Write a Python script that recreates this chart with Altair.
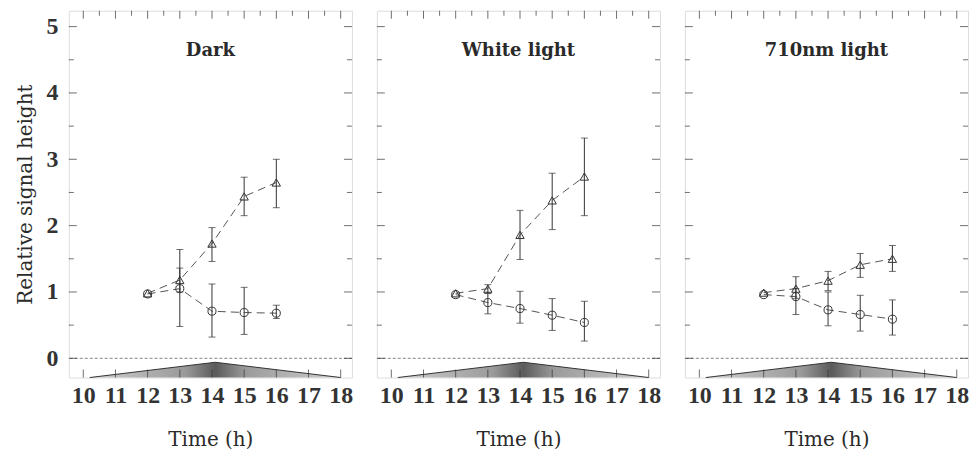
import altair as alt
import pandas as pd

# ---------------- data ----------------
panels = ["Dark", "White light", "710nm light"]
times = [12, 13, 14, 15, 16]

dark_tri = [0.98, 1.18, 1.73, 2.44, 2.65]
dark_tri_lo = [0.98, 1.00, 1.46, 2.15, 2.27]
dark_tri_hi = [0.98, 1.36, 1.97, 2.73, 3.00]
dark_cir = [0.97, 1.05, 0.71, 0.69, 0.68]
dark_cir_lo = [0.97, 0.48, 0.32, 0.36, 0.60]
dark_cir_hi = [0.97, 1.64, 1.12, 1.07, 0.80]

white_tri = [0.98, 1.05, 1.86, 2.38, 2.74]
white_tri_lo = [0.98, 0.98, 1.49, 1.94, 2.15]
white_tri_hi = [0.98, 1.11, 2.23, 2.79, 3.32]
white_cir = [0.96, 0.84, 0.75, 0.65, 0.54]
white_cir_lo = [0.96, 0.67, 0.53, 0.42, 0.26]
white_cir_hi = [0.96, 0.98, 1.01, 0.90, 0.86]

nm_tri = [0.99, 1.05, 1.17, 1.41, 1.50]
nm_tri_lo = [0.99, 0.90, 1.02, 1.22, 1.31]
nm_tri_hi = [0.99, 1.23, 1.31, 1.58, 1.70]
nm_cir = [0.96, 0.93, 0.73, 0.66, 0.59]
nm_cir_lo = [0.96, 0.66, 0.49, 0.41, 0.35]
nm_cir_hi = [0.96, 1.05, 1.00, 0.95, 0.88]

x_ticks_major = [10, 11, 12, 13, 14, 15, 16, 17, 18]
x_ticks_minor = [10.5, 11.5, 12.5, 13.5, 14.5, 15.5, 16.5, 17.5]
y_ticks_major = [0, 1, 2, 3, 4, 5]
y_ticks_minor = [0.5, 1.5, 2.5, 3.5, 4.5]

light_time = [10.2, 14.1, 18.0]
light_level = [-0.29, -0.06, -0.29]
zero_level = [0]

# ---------------- styling ----------------
X_DOMAIN = [9.55, 18.35]
Y_DOMAIN = [-0.29, 5.24]
W, H = 284, 368
FONT = "Liberation Serif"
TFONT = "DejaVu Serif"
INK = "#333333"

series_data = {
    "Dark": {"tri": (dark_tri, dark_tri_lo, dark_tri_hi), "cir": (dark_cir, dark_cir_lo, dark_cir_hi)},
    "White light": {"tri": (white_tri, white_tri_lo, white_tri_hi), "cir": (white_cir, white_cir_lo, white_cir_hi)},
    "710nm light": {"tri": (nm_tri, nm_tri_lo, nm_tri_hi), "cir": (nm_cir, nm_cir_lo, nm_cir_hi)},
}
rows = []
for p in panels:
    for s, (v, lo, hi) in series_data[p].items():
        for t, a, b, c in zip(times, v, lo, hi):
            rows.append(dict(panel=p, series=s, time=t, value=a, lo=b, hi=c))
df = pd.DataFrame(rows)

light_df = pd.DataFrame({"time": light_time, "top": light_level,
                         "bottom": [Y_DOMAIN[0]] * len(light_time)})
zero_df = pd.DataFrame({"v": zero_level})
xt_major = pd.DataFrame({"v": x_ticks_major})
xt_minor = pd.DataFrame({"v": x_ticks_minor})
yt_major = pd.DataFrame({"v": y_ticks_major})
yt_minor = pd.DataFrame({"v": y_ticks_minor})

gradient = alt.Gradient(
    gradient="linear",
    stops=[alt.GradientStop(color="#cfcfcf", offset=0),
           alt.GradientStop(color="#9a9a9a", offset=0.38),
           alt.GradientStop(color="#5a5a5a", offset=0.5),
           alt.GradientStop(color="#9a9a9a", offset=0.62),
           alt.GradientStop(color="#cfcfcf", offset=1)],
    x1=0, x2=1, y1=0, y2=0,
)


def make_panel(name, first):
    d = df[df.panel == name]
    xs = alt.Scale(domain=X_DOMAIN, nice=False, zero=False)
    ys = alt.Scale(domain=Y_DOMAIN, nice=False, zero=False)
    xaxis = alt.Axis(values=x_ticks_major, title="Time (h)", ticks=False, domain=False,
                     grid=False, format="d", labelFont=FONT, labelFontSize=24,
                     labelFontWeight="bold", labelColor=INK, labelPadding=6,
                     titleFont=TFONT, titleFontSize=20, titleFontWeight="normal",
                     titleColor="#2a2a2a", titlePadding=22)
    if first:
        yaxis = alt.Axis(values=y_ticks_major, title="Relative signal height", ticks=False,
                         domain=False, grid=False, format="d", labelFont=FONT,
                         labelFontSize=24, labelFontWeight="bold", labelColor=INK,
                         labelPadding=11, titleFont=TFONT, titleFontSize=20,
                         titleFontWeight="normal", titleColor="#2a2a2a", titlePadding=10)
    else:
        yaxis = None

    def X(f):
        return alt.X(f, type="quantitative", scale=xs, axis=xaxis)

    def Y(f):
        return alt.Y(f, type="quantitative", scale=ys, axis=yaxis)

    area = alt.Chart(light_df).mark_area(color=gradient).encode(
        x=X("time"), y=Y("top"), y2="bottom")
    area_edge = alt.Chart(light_df).mark_line(color="#333", strokeWidth=1).encode(
        x=X("time"), y=Y("top"))
    zero = alt.Chart(zero_df).mark_rule(color="#666", strokeWidth=0.8,
                                        strokeDash=[3, 2]).encode(y=Y("v"))
    lines = alt.Chart(d).mark_line(color="#555", strokeWidth=1, strokeDash=[8, 5]).encode(
        x=X("time"), y=Y("value"), detail="series:N")
    eb = alt.Chart(d).transform_filter("datum.hi > datum.lo")
    err = eb.mark_rule(color=INK, strokeWidth=1).encode(x=X("time"), y=Y("lo"), y2="hi")
    cap_lo = eb.mark_tick(orient="horizontal", size=7, thickness=1, color=INK).encode(
        x=X("time"), y=Y("lo"))
    cap_hi = eb.mark_tick(orient="horizontal", size=7, thickness=1, color=INK).encode(
        x=X("time"), y=Y("hi"))
    circles = alt.Chart(d).transform_filter("datum.series == 'cir'").mark_point(
        shape="circle", filled=False, size=65, strokeWidth=1, color=INK, opacity=1).encode(
        x=X("time"), y=Y("value"))
    tris = alt.Chart(d).transform_filter("datum.series == 'tri'").mark_point(
        shape="triangle-up", filled=False, size=70, strokeWidth=1, color=INK, opacity=1).encode(
        x=X("time"), y=Y("value"))

    tk = dict(thickness=1, color=INK)
    ticks = [
        alt.Chart(xt_major).mark_tick(orient="vertical", size=8, **tk).encode(x=X("v"), y=alt.value(4)),
        alt.Chart(xt_minor).mark_tick(orient="vertical", size=5, **tk).encode(x=X("v"), y=alt.value(2.5)),
        alt.Chart(xt_major).mark_tick(orient="vertical", size=8, **tk).encode(x=X("v"), y=alt.value(H - 4)),
        alt.Chart(yt_major).mark_tick(orient="horizontal", size=8, **tk).encode(y=Y("v"), x=alt.value(4)),
        alt.Chart(yt_minor).mark_tick(orient="horizontal", size=5, **tk).encode(y=Y("v"), x=alt.value(2.5)),
        alt.Chart(yt_major).mark_tick(orient="horizontal", size=8, **tk).encode(y=Y("v"), x=alt.value(W - 4)),
        alt.Chart(yt_minor).mark_tick(orient="horizontal", size=5, **tk).encode(y=Y("v"), x=alt.value(W - 2.5)),
    ]
    title = alt.Chart(pd.DataFrame({"label": [name]})).mark_text(
        font=TFONT, fontSize=18, fontWeight="bold", color="#2a2a2a").encode(
        x=alt.value(W / 2), y=alt.value(40), text="label:N")

    return alt.layer(area, area_edge, zero, lines, err, cap_lo, cap_hi, circles, tris,
                     *ticks, title).properties(width=W, height=H)


chart = alt.hconcat(
    make_panel(panels[0], True),
    make_panel(panels[1], False),
    make_panel(panels[2], False),
    spacing=25, bounds="flush",
).properties(
    padding={"left": 7, "top": 1, "right": 0, "bottom": 0}
).configure_view(stroke="#444", strokeWidth=1).configure(background="white")

chart.save("out.html", embed_options={"renderer": "svg", "actions": False})
